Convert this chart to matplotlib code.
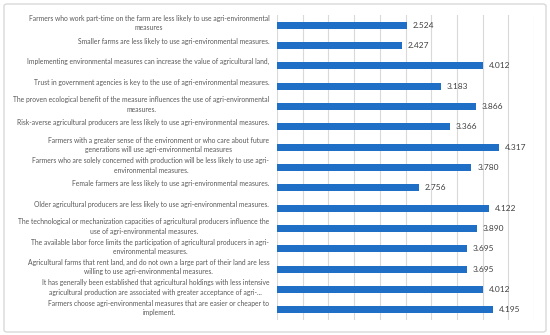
import matplotlib
matplotlib.use("Agg")
import matplotlib.pyplot as plt
from matplotlib.patches import FancyBboxPatch

categories = [
    "Farmers who work part-time on the farm are less likely to use agri-environmental\nmeasures",
    "Smaller farms are less likely to use agri-environmental measures.",
    "Implementing environmental measures can increase the value of agricultural land,",
    "Trust in government agencies is key to the use of agri-environmental measures.",
    "The proven ecological benefit of the measure influences the use of agri-environmental\nmeasures.",
    "Risk-averse agricultural producers are less likely to use agri-environmental measures.",
    "Farmers with a greater sense of the environment or who care about future\ngenerations will use agri-environmental measures",
    "Farmers who are solely concerned with production will be less likely to use agri-\nenvironmental measures.",
    "Female farmers are less likely to use agri-environmental measures.",
    "Older agricultural producers are less likely to use agri-environmental measures.",
    "The technological or mechanization capacities of agricultural producers influence the\nuse of agri-environmental measures.",
    "The available labor force limits the participation of agricultural producers in agri-\nenvironmental measures.",
    "Agricultural farms that rent land, and do not own a large part of their land are less\nwilling to use agri-environmental measures.",
    "It has generally been established that agricultural holdings with less intensive\nagricultural production are associated with greater acceptance of agri-...",
    "Farmers choose agri-environmental measures that are easier or cheaper to\nimplement.",
]
values = [2.524, 2.427, 4.012, 3.183, 3.866, 3.366, 4.317, 3.780, 2.756,
          4.122, 3.890, 3.695, 3.695, 4.012, 4.195]
value_labels = [f"{v:.3f}" for v in values]

W, H = 550, 335
fig = plt.figure(figsize=(5.5, 3.35), dpi=100)
fig.patch.set_facecolor("white")

# outer chart frame
frame = FancyBboxPatch((4 / W, 3 / H), 542 / W, 328 / H,
                       boxstyle="round,pad=0,rounding_size=0.006",
                       transform=fig.transFigure, facecolor="none",
                       edgecolor="#d9d9d9", linewidth=1.0, zorder=-1)
fig.patches.append(frame)

ax = fig.add_axes([277 / W, 1 - 320 / H, (534 - 277) / W, (320 - 15) / H])
ax.set_facecolor("none")

n = len(values)
ypos = list(range(n))
ax.barh(ypos, values, height=0.36, color="#1f6fc6", zorder=3)

ax.set_xlim(0, 5)
ax.set_ylim(n - 0.5, -0.5)
ax.set_xticks([i * 0.5 for i in range(11)])
ax.xaxis.grid(True, color="#d9d9d9", linewidth=0.8, zorder=0)
ax.set_axisbelow(True)
ax.tick_params(axis="x", length=0, labelbottom=False)
ax.set_yticks(ypos)
ax.tick_params(axis="y", length=0, labelleft=False)
for s in ax.spines.values():
    s.set_visible(False)

# category labels (Excel places them slightly above the bar centre)
for y, lab in zip(ypos, categories):
    up = 1.5 if "\n" in lab else 2.8
    ax.annotate(lab, (0, y), xytext=(-5.5, up), textcoords="offset points",
                va="center", ha="right", multialignment="center",
                fontsize=4.9, color="#595959", family="Lato",
                linespacing=1.4, annotation_clip=False)

for y, v, lab in zip(ypos, values, value_labels):
    ax.annotate(lab, (v, y), xytext=(4.3, 0), textcoords="offset points",
                va="center", ha="left", fontsize=6, color="#404040",
                family="Lato")

fig.savefig("out.png", dpi=100)
